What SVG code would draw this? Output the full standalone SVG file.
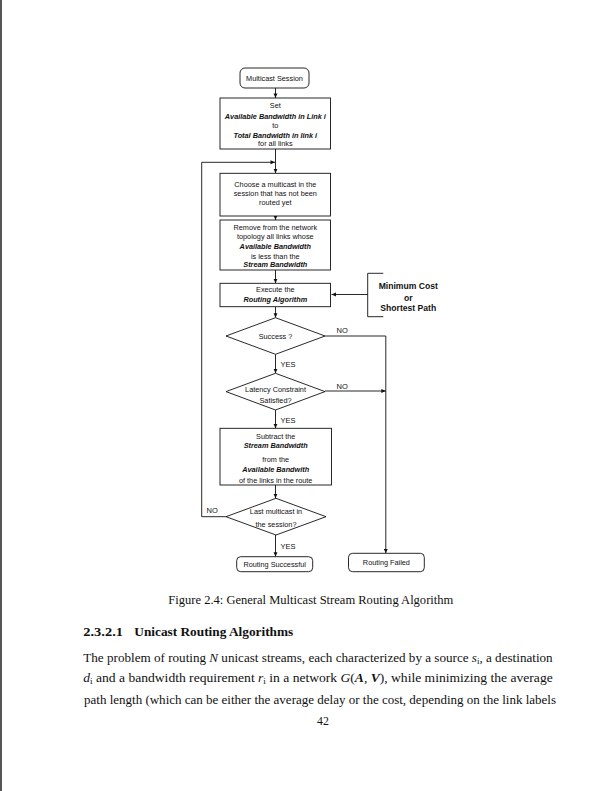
<svg xmlns="http://www.w3.org/2000/svg" width="612" height="791" viewBox="0 0 612 791">
<style>
.bx{fill:#fff;stroke:#111;stroke-width:0.9}
.ln{fill:none;stroke:#111;stroke-width:0.9}
.t{font-family:"Liberation Sans",Arial,sans-serif;font-size:7.3px;fill:#111;text-anchor:middle}
.bi{font-weight:bold;font-style:italic}
.rb{font-family:"Liberation Sans",Arial,sans-serif;font-size:8.6px;font-weight:bold;fill:#111;text-anchor:middle}
.lb{font-family:"Liberation Sans",Arial,sans-serif;font-size:7.5px;fill:#111}
.s{font-family:"Liberation Serif","Times New Roman",serif;font-size:11.8px;fill:#111}
</style>
<defs>
<marker id="ah" viewBox="0 0 6 6" refX="6" refY="3" markerWidth="5" markerHeight="4.5" markerUnits="userSpaceOnUse" orient="auto">
<path d="M0,0.4 L6,3 L0,5.6z" fill="#111"/>
</marker>
</defs>
<rect width="612" height="791" fill="#fff"/>
<line x1="1" y1="0" x2="1" y2="791" stroke="#555" stroke-width="2"/>

<g id="connectors">
<line class="ln" x1="275.5" y1="88" x2="275.5" y2="98" marker-end="url(#ah)"/>
<line class="ln" x1="275.5" y1="149" x2="275.5" y2="173.3" marker-end="url(#ah)"/>
<line class="ln" x1="275.5" y1="216" x2="275.5" y2="220" marker-end="url(#ah)"/>
<line class="ln" x1="275.5" y1="270" x2="275.5" y2="283.3" marker-end="url(#ah)"/>
<line class="ln" x1="275.5" y1="306.7" x2="275.5" y2="317.7" marker-end="url(#ah)"/>
<line class="ln" x1="275.5" y1="354.3" x2="275.5" y2="373.3" marker-end="url(#ah)"/>
<line class="ln" x1="275.5" y1="410" x2="275.5" y2="428.3" marker-end="url(#ah)"/>
<line class="ln" x1="275.5" y1="485" x2="275.5" y2="498.3" marker-end="url(#ah)"/>
<line class="ln" x1="275.5" y1="535" x2="275.5" y2="556.7" marker-end="url(#ah)"/>
<polyline class="ln" points="226,516.7 201.7,516.7 201.7,162.3 275,162.3" marker-end="url(#ah)"/>
<polyline class="ln" points="325,336 385.8,336 385.8,553.3" marker-end="url(#ah)"/>
<line class="ln" x1="325" y1="391" x2="385.8" y2="391" marker-end="url(#ah)"/>
<polyline class="ln" points="383.3,273.3 367.7,273.3 367.7,316.7 383.3,316.7"/>
<line class="ln" x1="367.7" y1="294.5" x2="331.5" y2="294.5" marker-end="url(#ah)"/>
<text class="lb" x="336.5" y="332.7">NO</text>
<text class="lb" x="336.5" y="388.7">NO</text>
<text class="lb" x="206.5" y="513.3">NO</text>
<text class="lb" x="280.5" y="367">YES</text>
<text class="lb" x="280.5" y="422.7">YES</text>
<text class="lb" x="280.5" y="549.3">YES</text>
</g>

<g id="n-start">
<rect class="bx" x="240" y="68" width="69" height="20" rx="5"/>
<text class="t" x="274.5" y="80.6">Multicast Session</text>
</g>
<g id="n-set">
<rect class="bx" x="220" y="98" width="110.5" height="51"/>
<text class="t" x="275.3" y="108.3">Set</text>
<text class="t bi" x="275.3" y="119.3">Available Bandwidth in Link i</text>
<text class="t" x="275.3" y="127.7">to</text>
<text class="t bi" x="275.3" y="137.7">Total Bandwidth in link i</text>
<text class="t" x="275.3" y="146">for all links</text>
</g>
<g id="n-choose">
<rect class="bx" x="220" y="173.3" width="110.5" height="42.7"/>
<text class="t" x="275.3" y="187">Choose a multicast in the</text>
<text class="t" x="275.3" y="196">session that has not been</text>
<text class="t" x="275.3" y="205">routed yet</text>
</g>
<g id="n-remove">
<rect class="bx" x="220" y="220" width="110.5" height="50"/>
<text class="t" x="275.3" y="230">Remove from the network</text>
<text class="t" x="275.3" y="239.3">topology all links whose</text>
<text class="t bi" x="275.3" y="248.7">Available Bandwidth</text>
<text class="t" x="275.3" y="258.6">is less than the</text>
<text class="t bi" x="275.3" y="267">Stream Bandwidth</text>
</g>
<g id="n-execute">
<rect class="bx" x="220" y="283.3" width="110.5" height="23.4"/>
<text class="t" x="275.3" y="292">Execute the</text>
<text class="t bi" x="275.3" y="301.7">Routing Algorithm</text>
</g>
<g id="n-criteria">
<text class="rb" x="408.3" y="289">Minimum Cost</text>
<text class="rb" x="408.3" y="300.5">or</text>
<text class="rb" x="408.3" y="310.8">Shortest Path</text>
</g>
<g id="n-success">
<polygon class="bx" points="275.5,317.7 325,336 275.5,354.3 226,336"/>
<text class="t" x="275.5" y="338.6">Success ?</text>
</g>
<g id="n-latency">
<polygon class="bx" points="275.5,373.3 325,391.6 275.5,410 226,391.6"/>
<text class="t" x="275.5" y="392">Latency Constraint</text>
<text class="t" x="275.5" y="402.6">Satisfied?</text>
</g>
<g id="n-subtract">
<rect class="bx" x="220" y="428.3" width="111.5" height="56.7"/>
<text class="t" x="275.7" y="438.7">Subtract the</text>
<text class="t bi" x="275.7" y="448.4">Stream Bandwidth</text>
<text class="t" x="275.7" y="461.7">from the</text>
<text class="t bi" x="275.7" y="471.7">Available Bandwith</text>
<text class="t" x="275.7" y="482.6">of the links in the route</text>
</g>
<g id="n-last">
<polygon class="bx" points="276,498.3 326,516.7 276,535 226,516.7"/>
<text class="t" x="276" y="514.3">Last multicast in</text>
<text class="t" x="276" y="526.6">the session?</text>
</g>
<g id="n-ok">
<rect class="bx" x="236.7" y="556.7" width="76" height="15" rx="4"/>
<text class="t" x="274.7" y="566.6">Routing Successful</text>
</g>
<g id="n-fail">
<rect class="bx" x="348.5" y="553.3" width="75.8" height="18.4" rx="4"/>
<text class="t" x="386.4" y="565.3">Routing Failed</text>
</g>

<text class="s" x="168.3" y="603.5" textLength="285" lengthAdjust="spacingAndGlyphs">Figure 2.4: General Multicast Stream Routing Algorithm</text>
<text class="s" x="83.3" y="635.5" font-weight="bold" textLength="39.7" lengthAdjust="spacingAndGlyphs">2.3.2.1</text>
<text class="s" x="134.3" y="635.5" font-weight="bold" textLength="159" lengthAdjust="spacingAndGlyphs">Unicast Routing Algorithms</text>
<text class="s" x="83.3" y="661.5" textLength="469.4" lengthAdjust="spacingAndGlyphs">The problem of routing <tspan font-style="italic">N</tspan> unicast streams, each characterized by a source <tspan font-style="italic">s</tspan><tspan font-size="8" dy="2">i</tspan><tspan dy="-2">, a destination</tspan></text>
<text class="s" x="83.3" y="682.3" textLength="469.4" lengthAdjust="spacingAndGlyphs"><tspan font-style="italic">d</tspan><tspan font-size="8" dy="2">i</tspan><tspan dy="-2"> and a bandwidth requirement </tspan><tspan font-style="italic">r</tspan><tspan font-size="8" dy="2">i</tspan><tspan dy="-2"> in a network </tspan><tspan font-style="italic">G</tspan>(<tspan font-style="italic" font-weight="bold">A</tspan>, <tspan font-style="italic" font-weight="bold">V</tspan>), while minimizing the average</text>
<text class="s" x="84" y="704" textLength="472" lengthAdjust="spacingAndGlyphs">path length (which can be either the average delay or the cost, depending on the link labels</text>
<text class="s" x="323" y="725" text-anchor="middle">42</text>
</svg>
